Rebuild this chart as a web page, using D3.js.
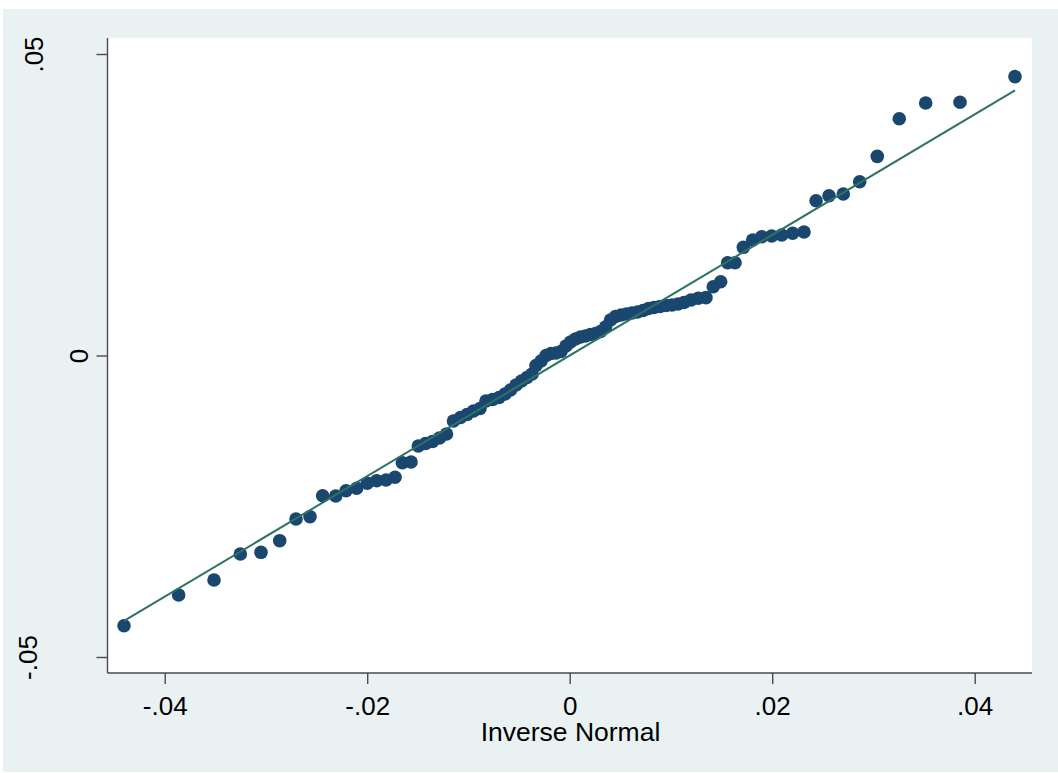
<!DOCTYPE html>
<html>
<head>
<meta charset="utf-8">
<script src="https://cdn.jsdelivr.net/npm/d3@7"></script>
<style>
  body { margin: 0; background: #fff; }
  text { font-family: "Liberation Sans", Arial, sans-serif; fill: #000; }
</style>
</head>
<body>
<svg width="1058" height="773"></svg>
<script>
var invNormal = [
  -0.04402, -0.03862, -0.03513, -0.03253, -0.03049, -0.02864, -0.02703, -0.02565, -0.02440, -0.02311,
  -0.02209, -0.02104, -0.01999, -0.01906, -0.01814, -0.01725, -0.01653, -0.01567, -0.01495, -0.01424,
  -0.01355, -0.01286, -0.01217, -0.01148, -0.01079, -0.01014, -0.00950, -0.00886, -0.00827, -0.00762,
  -0.00698, -0.00639, -0.00585, -0.00530, -0.00476, -0.00422, -0.00372, -0.00333, -0.00283, -0.00234,
  -0.00185, -0.00135, -0.00086, -0.00037, 0.00008, 0.00057, 0.00107, 0.00156, 0.00205, 0.00255,
  0.00304, 0.00354, 0.00403, 0.00452, 0.00507, 0.00561, 0.00615, 0.00670, 0.00724, 0.00778,
  0.00833, 0.00892, 0.00951, 0.01010, 0.01070, 0.01129, 0.01198, 0.01270, 0.01346, 0.01418,
  0.01491, 0.01560, 0.01633, 0.01715, 0.01807, 0.01896, 0.01995, 0.02094, 0.02202, 0.02314,
  0.02433, 0.02561, 0.02702, 0.02864, 0.03038, 0.03255, 0.03516, 0.03855, 0.04398
];
var observed = [
  -0.04481, -0.03972, -0.03723, -0.03292, -0.03264, -0.03071, -0.02711, -0.02673, -0.02325, -0.02330,
  -0.02242, -0.02202, -0.02119, -0.02076, -0.02065, -0.02020, -0.01778, -0.01766, -0.01501, -0.01459,
  -0.01426, -0.01368, -0.01302, -0.01086, -0.01028, -0.00978, -0.00920, -0.00879, -0.00755, -0.00730,
  -0.00697, -0.00638, -0.00572, -0.00489, -0.00423, -0.00365, -0.00307, -0.00166, -0.00091, 0.00000,
  0.00033, 0.00041, 0.00066, 0.00158, 0.00224, 0.00274, 0.00307, 0.00323, 0.00348, 0.00365,
  0.00398, 0.00473, 0.00589, 0.00647, 0.00672, 0.00688, 0.00705, 0.00721, 0.00746, 0.00779,
  0.00796, 0.00813, 0.00829, 0.00837, 0.00854, 0.00879, 0.00920, 0.00949, 0.00959, 0.01141,
  0.01224, 0.01539, 0.01539, 0.01794, 0.01915, 0.01970, 0.01982, 0.01998, 0.02027, 0.02048,
  0.02567, 0.02650, 0.02678, 0.02882, 0.03303, 0.03927, 0.04187, 0.04199, 0.04624
];
var xTicks = [-0.04, -0.02, 0, 0.02, 0.04];
var yTicks = [-0.05, 0, 0.05];
var xTitle = "Inverse Normal";

var svg = d3.select("svg");
var plot = {left: 108, top: 38, right: 1032, bottom: 673};

// stata style numbers: no leading zero, plain hyphen
var fmt = function(d) {
  if (d === 0) return "0";
  return d3.format(".2f")(d).replace("\u2212", "-").replace("0.", ".");
};

// where the rotated y labels sit (baseline distance left of the axis)
var yLabelShift = function(d) {
  if (d === 0) return 20;
  return d < 0 ? 71 : 65;
};

var x = d3.scaleLinear().domain([-0.04, 0.04]).range([164.7, 974.7]);
var y = d3.scaleLinear().domain([-0.05, 0.05]).range([657, 54]);

// outer graph region
svg.append("rect")
    .attr("x", 3).attr("y", 9)
    .attr("width", 1055).attr("height", 763)
    .attr("fill", "#eaf1f3");

// plot region
svg.append("rect")
    .attr("x", plot.left).attr("y", plot.top)
    .attr("width", plot.right - plot.left).attr("height", plot.bottom - plot.top)
    .attr("fill", "#fff");

// axes
var xAxis = d3.axisBottom(x).tickValues(xTicks).tickSize(11).tickFormat(fmt);
var yAxis = d3.axisLeft(y).tickValues(yTicks).tickSize(11).tickFormat(fmt);

var gx = svg.append("g")
    .attr("transform", "translate(0," + plot.bottom + ")")
    .call(xAxis);
gx.select(".domain").attr("d", "M" + (plot.left - 0.5) + ",0H" + plot.right);

var gy = svg.append("g")
    .attr("transform", "translate(" + (plot.left - 0.5) + ",0)")
    .call(yAxis);
gy.select(".domain").attr("d", "M0," + plot.top + "V" + plot.bottom);

svg.selectAll(".domain").attr("stroke", "#4a4a4a").attr("stroke-width", 1.4);
svg.selectAll(".tick line").attr("stroke", "#4a4a4a").attr("stroke-width", 1.4);

gx.selectAll(".tick text")
    .attr("y", null).attr("dy", null)
    .attr("transform", "translate(0,42)")
    .style("font-size", "26px");

gy.selectAll(".tick text")
    .attr("x", null).attr("dy", null)
    .attr("text-anchor", "middle")
    .attr("transform", function(d) { return "translate(" + (-yLabelShift(d)) + ",0) rotate(-90)"; })
    .style("font-size", "26px");

// x axis title
svg.append("text")
    .attr("x", (plot.left + plot.right) / 2 + 0.5)
    .attr("y", 741)
    .attr("text-anchor", "middle")
    .style("font-size", "26.5px")
    .text(xTitle);

// points
var pts = invNormal.map(function(d, i) { return {x: d, y: observed[i]}; });

svg.append("g").selectAll("circle")
    .data(pts).enter()
    .append("circle")
    .attr("cx", function(d) { return x(d.x); })
    .attr("cy", function(d) { return y(d.y); })
    .attr("r", 6.8)
    .attr("fill", "#1a476f");

// reference line y = x across the range of the quantiles
var ext = d3.extent(invNormal);
svg.append("line")
    .attr("x1", x(ext[0])).attr("y1", y(ext[0]))
    .attr("x2", x(ext[1])).attr("y2", y(ext[1]))
    .attr("stroke", "#2e7262")
    .attr("stroke-width", 2);
</script>
</body>
</html>
